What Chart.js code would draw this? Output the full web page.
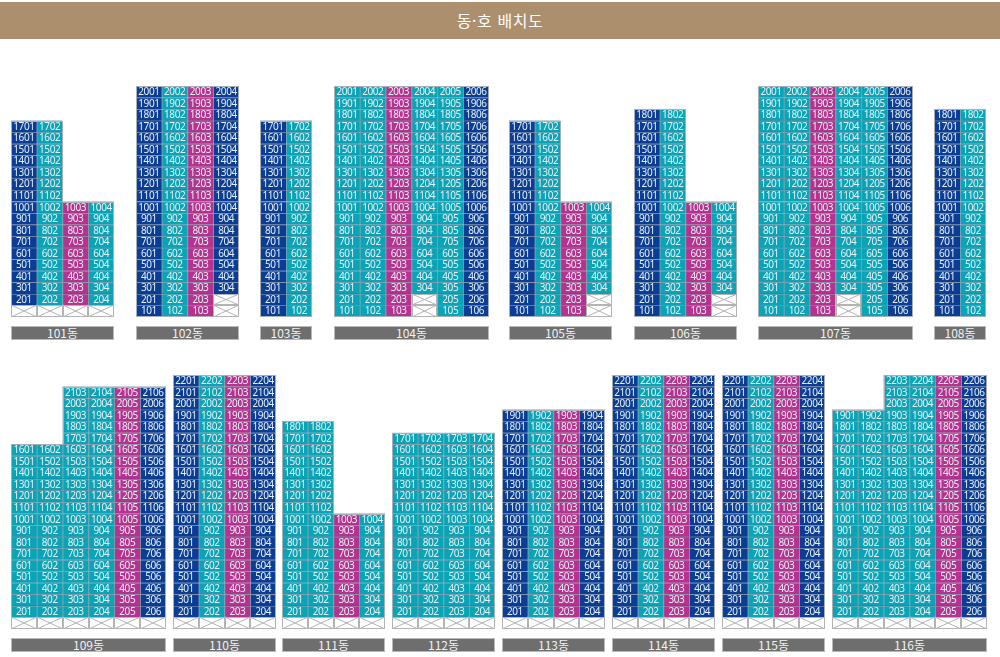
<!DOCTYPE html>
<html lang="ko">
<head>
<meta charset="utf-8">
<title>동·호 배치도</title>
<script src="https://cdn.jsdelivr.net/npm/chart.js@4"></script>
<style>
    html, body { margin: 0; padding: 0; background: #fff; overflow: hidden; }
    body { position: relative; width: 1000px; height: 657px; }
    #title {
        position: absolute; left: 0; top: 2px; width: 1000px; height: 37px;
        background: #ac8f6c; color: #fff; text-align: center; letter-spacing: 0.6px;
        font: 400 16px/37px "Noto Sans CJK KR", sans-serif;
    }
    .building { position: absolute; }
    .building canvas { display: block; }
    .name {
        position: absolute; left: 0; right: 0; height: 12px;
        background: #6e6e6e; border: 1px solid #b9b9b9; color: #f2f2f2; text-align: center;
        font: 12px/12px "Noto Sans CJK KR", sans-serif;
    }
</style>
</head>
<body>
<div id="title">동·호 배치도</div>
<script>
// building names, top row then bottom row
const buildingNames = ["101동", "102동", "103동", "104동", "105동", "106동", "107동", "108동",
    "109동", "110동", "111동", "112동", "113동", "114동", "115동", "116동"];

// highest floor of each line (호 라인)
const topFloors = [
    [17, 17, 10, 10], [20, 20, 20, 20], [17, 17], [20, 20, 20, 20, 20, 20],
    [17, 17, 10, 10], [18, 18, 10, 10], [20, 20, 20, 20, 20, 20], [18, 18],
    [16, 16, 21, 21, 21, 21], [22, 22, 22, 22], [18, 18, 10, 10], [17, 17, 17, 17],
    [19, 19, 19, 19], [22, 22, 22, 22], [22, 22, 22, 22], [19, 19, 22, 22, 22, 22]
];

// lowest occupied floor of each line, floors under it are empty (X)
const lowFloors = [
    [2, 2, 2, 2], [1, 1, 1, 3], [1, 1], [1, 1, 1, 3, 1, 1],
    [1, 1, 1, 3], [1, 1, 1, 3], [1, 1, 1, 3, 1, 1], [1, 1],
    [2, 2, 2, 2, 2, 2], [2, 2, 2, 2], [2, 2, 2, 2], [2, 2, 2, 2],
    [2, 2, 2, 2], [2, 2, 2, 2], [2, 2, 2, 2], [2, 2, 2, 2, 2, 2]
];

// unit type of each line: B blue, T teal, M magenta
const lineTypes = [
    ["B", "T", "M", "T"], ["B", "T", "M", "B"], ["B", "T"], ["T", "T", "M", "T", "T", "B"],
    ["B", "T", "M", "T"], ["B", "T", "M", "T"], ["T", "T", "M", "T", "T", "B"], ["B", "T"],
    ["T", "T", "T", "T", "M", "B"], ["B", "T", "M", "B"], ["T", "T", "M", "T"], ["T", "T", "T", "T"],
    ["B", "T", "M", "B"], ["B", "T", "M", "B"], ["B", "T", "M", "B"], ["T", "T", "T", "T", "M", "B"]
];

// page layout, kept apart from the data
const lefts = [11, 136, 260, 334, 509, 634, 758, 934, 11, 173, 282, 392, 502, 612, 722, 832];
const rowTop = [86, 375];
const rowHeight = [231, 254];
const rowFloors = [20, 22];
const labelTop = [326, 638];
const colWidth = 25.75;
const typeColors = { B: "#0c3d94", T: "#0ba4b6", M: "#b5328e" };

function unitPlugin(tops, lows) {
    const exists = (i, f) => i >= 0 && i < tops.length && f >= 1 && f <= tops[i];
    return {
        id: "unitCells",
        afterDatasetsDraw(chart) {
            const ctx = chart.ctx;
            ctx.save();
            ctx.textAlign = "center";
            ctx.textBaseline = "middle";
            ctx.font = '10px "Noto Sans", sans-serif';
            ctx.letterSpacing = "-0.45px";
            chart.data.datasets.forEach((ds, d) => {
                const meta = chart.getDatasetMeta(d);
                meta.data.forEach((bar, i) => {
                    if (!ds.data[i]) return;
                    const f = ds.floor;
                    const x0 = Math.round(bar.x - bar.width / 2);
                    const x1 = Math.round(bar.x + bar.width / 2);
                    const y0 = Math.round(bar.y);
                    const y1 = Math.round(bar.base);
                    if (f < lows[i]) {
                        // empty unit: crossed box
                        ctx.strokeStyle = "#b4b4b4";
                        ctx.lineWidth = 1;
                        ctx.strokeRect(x0 + 0.5, y0 + 0.5, x1 - x0 - 1, y1 - y0 - 1);
                        ctx.beginPath();
                        ctx.moveTo(x0, y0);
                        ctx.lineTo(x1, y1);
                        ctx.moveTo(x1, y0);
                        ctx.lineTo(x0, y1);
                        ctx.stroke();
                        return;
                    }
                    ctx.fillStyle = "#e6f1f5";
                    ctx.fillText(String(f * 100 + i + 1), bar.x, (y0 + y1) / 2 + 0.5);
                    // light outline on the outer edge of the building
                    ctx.strokeStyle = "#a6b0b6";
                    ctx.lineWidth = 1;
                    ctx.beginPath();
                    if (!exists(i, f + 1)) { ctx.moveTo(x0, y0 + 0.5); ctx.lineTo(x1, y0 + 0.5); }
                    if (!exists(i - 1, f)) { ctx.moveTo(x0 + 0.5, y0); ctx.lineTo(x0 + 0.5, y1); }
                    if (!exists(i + 1, f)) { ctx.moveTo(x1 - 0.5, y0); ctx.lineTo(x1 - 0.5, y1); }
                    if (f === 1) { ctx.moveTo(x0, y1 - 0.5); ctx.lineTo(x1, y1 - 0.5); }
                    ctx.stroke();
                });
            });
            ctx.restore();
        }
    };
}

buildingNames.forEach((name, b) => {
    const row = b < 8 ? 0 : 1;
    const tops = topFloors[b];
    const lows = lowFloors[b];
    const lines = tops.map((_, i) => String(i + 1));

    const box = document.createElement("div");
    box.className = "building";
    box.style.left = lefts[b] + "px";
    box.style.top = rowTop[row] + "px";
    const canvas = document.createElement("canvas");
    box.appendChild(canvas);
    const label = document.createElement("div");
    label.className = "name";
    label.textContent = name;
    label.style.top = (labelTop[row] - rowTop[row]) + "px";
    box.appendChild(label);
    document.body.appendChild(box);

    const width = Math.round(tops.length * colWidth);
    box.style.width = width + "px";
    canvas.width = width;
    canvas.height = rowHeight[row];

    // one floating-bar dataset per floor
    const datasets = [];
    for (let f = 1; f <= Math.max(...tops); f++) {
        datasets.push({
            floor: f,
            data: tops.map(t => (f <= t ? [f - 1, f] : null)),
            backgroundColor: lineTypes[b].map((t, i) => (f < lows[i] ? "#ffffff" : typeColors[t])),
            borderColor: lows.map(low => (f < low ? "rgba(0,0,0,0)" : "rgba(3,35,70,0.4)")),
            borderWidth: { top: 1, left: 1, right: 0, bottom: 0 },
            borderSkipped: false,
            grouped: false,
            barPercentage: 1,
            categoryPercentage: 1
        });
    }

    new Chart(canvas, {
        type: "bar",
        data: { labels: lines, datasets: datasets },
        options: {
            responsive: false,
            animation: false,
            devicePixelRatio: 1,
            layout: { padding: 0 },
            plugins: { legend: { display: false }, tooltip: { enabled: false } },
            scales: {
                x: { display: false, grid: { display: false } },
                y: { display: false, min: 0, max: rowFloors[row], grid: { display: false } }
            }
        },
        plugins: [unitPlugin(tops, lows)]
    });
});
</script>
</body>
</html>
